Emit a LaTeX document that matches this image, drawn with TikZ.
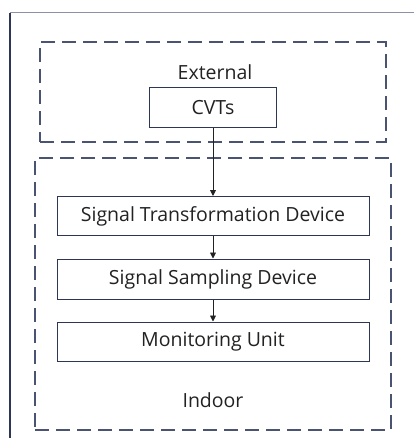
\documentclass[tikz,border=0pt]{standalone}
\usepackage{fontspec}
\setmainfont{Open Sans}
\usepackage{xcolor}
\usetikzlibrary{arrows.meta}
\definecolor{boxline}{HTML}{2E3657}
\definecolor{dashline}{HTML}{4A5372}
\definecolor{frameline}{HTML}{8C91A3}
\definecolor{txt}{HTML}{222222}
\tikzset{
  unitbox/.style={draw=boxline, line width=1pt, fill=white, inner sep=0pt, text=txt, font=\fontsize{19.5}{23}\selectfont},
  zone/.style={draw=dashline, line width=1.2pt, dash pattern=on 14pt off 7pt, inner sep=0pt},
  flow/.style={-{Triangle[length=6pt,width=6pt]}, draw=txt, line width=0.9pt}
}
\begin{document}
\begin{tikzpicture}[x=1pt, y=-1pt]
  \useasboundingbox (0,0) rectangle (414,438);

  %% frame
  \draw[frameline, line width=1pt] (10,13) -- (414,13);
  \draw[boxline, line width=1.2pt] (10,13) -- (10,438);

  %% zones
  \node[zone, minimum width=346pt, minimum height=100pt] (ext) at (213,92) {};
  \node[zone, minimum width=356pt, minimum height=272pt] (ind) at (213,294) {};
  \node[text=txt, font=\fontsize{19.5}{23}\selectfont] (extlbl) at (215,72) {External};
  \node[text=txt, font=\fontsize{19.5}{23}\selectfont] (indlbl) at (213,400) {Indoor};

  %% units
  \node[unitbox, minimum width=127pt, minimum height=40pt] (cvt) at (213,108) {CVTs};
  \node[unitbox, minimum width=312pt, minimum height=39pt] (trans) at (213,216) {Signal Transformation Device};
  \node[unitbox, minimum width=312pt, minimum height=40pt] (samp) at (213,279) {Signal Sampling Device};
  \node[unitbox, minimum width=312pt, minimum height=39pt] (mon) at (213,341.5) {Monitoring Unit};

  %% arrows
  \draw[flow] (cvt) -- (trans);
  \draw[flow] (trans) -- (samp);
  \draw[flow] (samp) -- (mon);
\end{tikzpicture}
\end{document}
